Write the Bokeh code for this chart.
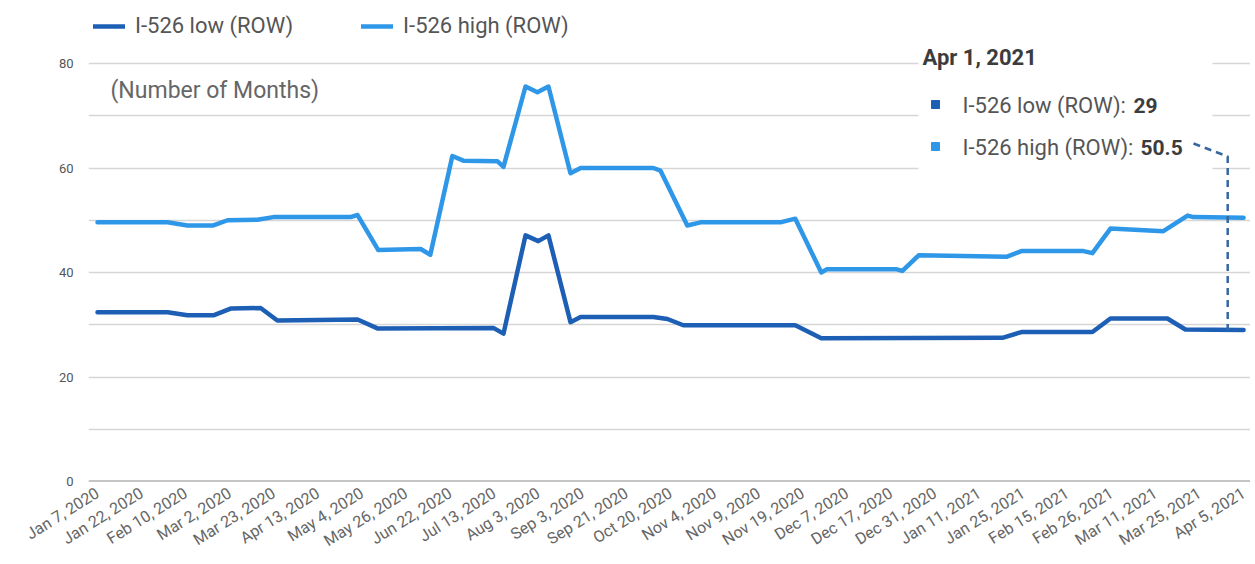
from bokeh.plotting import figure
from bokeh.models import Range1d, FixedTicker, Span, Legend, LegendItem, Label, BoxAnnotation
from bokeh.embed import file_html
from bokeh.resources import INLINE

# ---------------- data ----------------
tick_labels = ["Jan 7, 2020", "Jan 22, 2020", "Feb 10, 2020", "Mar 2, 2020", "Mar 23, 2020",
               "Apr 13, 2020", "May 4, 2020", "May 26, 2020", "Jun 22, 2020", "Jul 13, 2020",
               "Aug 3, 2020", "Sep 3, 2020", "Sep 21, 2020", "Oct 20, 2020", "Nov 4, 2020",
               "Nov 9, 2020", "Nov 19, 2020", "Dec 7, 2020", "Dec 17, 2020", "Dec 31, 2020",
               "Jan 11, 2021", "Jan 25, 2021", "Feb 15, 2021", "Feb 26, 2021", "Mar 11, 2021",
               "Mar 25, 2021", "Apr 5, 2021"]

# positions are in units of the labelled categories (0 = Jan 7, 2020 ... 26 = Apr 5, 2021)
high_x = [0, 1.59, 2.04, 2.63, 2.95, 3.63, 3.99, 5.74, 5.90, 6.37, 7.33, 7.55, 8.05, 8.30,
          9.07, 9.21, 9.71, 9.98, 10.23, 10.73, 10.96, 12.61, 12.77, 13.38, 13.68, 15.49,
          15.83, 16.42, 16.54, 18.13, 18.26, 18.63, 20.62, 20.96, 22.37, 22.57, 22.98,
          24.18, 24.73, 24.86, 26.0]
high_y = [49.6, 49.6, 49.0, 49.0, 50.0, 50.1, 50.6, 50.6, 51.0, 44.3, 44.5, 43.4, 62.3, 61.4,
          61.3, 60.2, 75.6, 74.5, 75.6, 59.0, 60.0, 60.0, 59.5, 49.0, 49.6, 49.6,
          50.3, 40.0, 40.6, 40.6, 40.3, 43.3, 43.0, 44.1, 44.1, 43.7, 48.4,
          47.9, 50.9, 50.6, 50.5]

low_x = [0, 1.59, 2.04, 2.63, 3.02, 3.70, 4.08, 5.90, 6.35, 8.98, 9.21, 9.71, 10.00, 10.23,
         10.73, 10.96, 12.61, 12.93, 13.29, 15.83, 16.42, 20.53, 20.96, 22.57, 22.98, 24.27,
         24.68, 26.0]
low_y = [32.4, 32.4, 31.8, 31.8, 33.1, 33.2, 30.8, 31.0, 29.3, 29.4, 28.3, 47.1, 46.0, 47.1,
         30.5, 31.5, 31.5, 31.1, 29.9, 29.9, 27.4, 27.5, 28.6, 28.6, 31.2, 31.2,
         29.1, 29.0]

tip_date = "Apr 1, 2021"
tip_x = 25.64          # Apr 1 lies 7/11 of the way from Mar 25 to Apr 5
tip_low = 29
tip_high = 50.5

LOW_COLOR = "#1d5fb5"
HIGH_COLOR = "#2f97e8"
FONT = "Roboto"

# --------------- layout helpers (annotation placement only) ---------------
PX_PER_X = 44.08
PX_PER_Y = 5.225
X0, Y0 = 97, 481
FIG_W, FIG_H = 1250, 562
FRAME_L, FRAME_T = 88, 8


def xd(px):
    return (px - X0) / PX_PER_X


def yd(py):
    return (Y0 - py) / PX_PER_Y


p = figure(width=FIG_W, height=FIG_H, output_backend="svg", toolbar_location=None,
           x_range=Range1d(xd(FRAME_L), xd(FIG_W)), y_range=Range1d(0, yd(FRAME_T)),
           min_border_left=FRAME_L, min_border_right=0, min_border_top=FRAME_T,
           min_border_bottom=FIG_H - Y0)
p.outline_line_color = None
p.background_fill_color = "white"

# grid
p.xgrid.visible = False
p.ygrid.ticker = FixedTicker(ticks=[10, 20, 30, 40, 50, 60, 70, 80])
p.ygrid.grid_line_color = "#d6d6d6"
p.ygrid.grid_line_width = 1.5
p.add_layout(Span(location=0, dimension="width", line_color="#8a8a8a", line_width=2, level="underlay"))

# axes
p.yaxis.ticker = FixedTicker(ticks=[0, 20, 40, 60, 80])
p.yaxis.axis_line_color = None
p.yaxis.major_tick_line_color = None
p.yaxis.major_tick_out = 0
p.yaxis.major_tick_in = 0
p.yaxis.minor_tick_line_color = None
p.yaxis.major_label_text_font = FONT
p.yaxis.major_label_text_font_size = "13px"
p.yaxis.major_label_text_color = "#555555"
p.yaxis.major_label_standoff = 15

p.xaxis.ticker = FixedTicker(ticks=list(range(len(tick_labels))))
p.xaxis.major_label_overrides = {i: t for i, t in enumerate(tick_labels)}
p.xaxis.major_label_orientation = 0.56
p.xaxis.axis_line_color = None
p.xaxis.major_tick_line_color = None
p.xaxis.major_tick_out = 0
p.xaxis.major_tick_in = 0
p.xaxis.minor_tick_line_color = None
p.xaxis.major_label_text_font = FONT
p.xaxis.major_label_text_font_size = "16px"
p.xaxis.major_label_text_color = "#666666"
p.xaxis.major_label_standoff = 10

# lines
r_low = p.line(low_x, low_y, line_color=LOW_COLOR, line_width=4.5, line_join="round", line_cap="round")
r_high = p.line(high_x, high_y, line_color=HIGH_COLOR, line_width=4.5, line_join="round", line_cap="round")

legend = Legend(items=[LegendItem(label="I-526 low (ROW)", renderers=[r_low]),
                       LegendItem(label="I-526 high (ROW)", renderers=[r_high])],
                orientation="horizontal", location="top_left", margin=5, padding=0,
                spacing=68, glyph_width=32, glyph_height=24, label_standoff=10,
                label_text_font=FONT, label_text_font_size="22px", label_text_color="#555555",
                border_line_color=None, background_fill_alpha=0)
p.add_layout(legend)

p.add_layout(Label(x=xd(110), y=yd(90), text="(Number of Months)", text_font=FONT,
                   text_font_size="23px", text_color="#666666", text_baseline="middle"))

# tooltip
p.add_layout(BoxAnnotation(left=xd(918), right=xd(1212), bottom=yd(174), top=yd(32),
                           fill_color="white", fill_alpha=1, line_color=None))
p.add_layout(Label(x=xd(922), y=yd(57), text=tip_date, text_font=FONT, text_font_size="22px",
                   text_font_style="bold", text_color="#3c3c3c", text_baseline="middle"))
p.scatter([xd(935), xd(935)], [yd(104), yd(146)], marker="square", size=8,
          color=[LOW_COLOR, HIGH_COLOR], level="overlay")
p.add_layout(Label(x=xd(962), y=yd(105), text="I-526 low (ROW):", text_font=FONT,
                   text_font_size="22px", text_color="#555555", text_baseline="middle"))
p.add_layout(Label(x=xd(1133), y=yd(105), text=f"{tip_low:g}", text_font=FONT,
                   text_font_size="21px", text_font_style="bold", text_color="#3c3c3c",
                   text_baseline="middle"))
p.add_layout(Label(x=xd(962), y=yd(147), text="I-526 high (ROW):", text_font=FONT,
                   text_font_size="22px", text_color="#555555", text_baseline="middle"))
p.add_layout(Label(x=xd(1140), y=yd(147), text=f"{tip_high:g}", text_font=FONT,
                   text_font_size="21px", text_font_style="bold", text_color="#3c3c3c",
                   text_baseline="middle"))
p.line([xd(1193), tip_x, tip_x], [yd(143), yd(156), tip_low], line_color="#36689f",
       line_width=2.5, line_dash="7 5", level="overlay")

open("out.html", "w").write(file_html(p, INLINE))
